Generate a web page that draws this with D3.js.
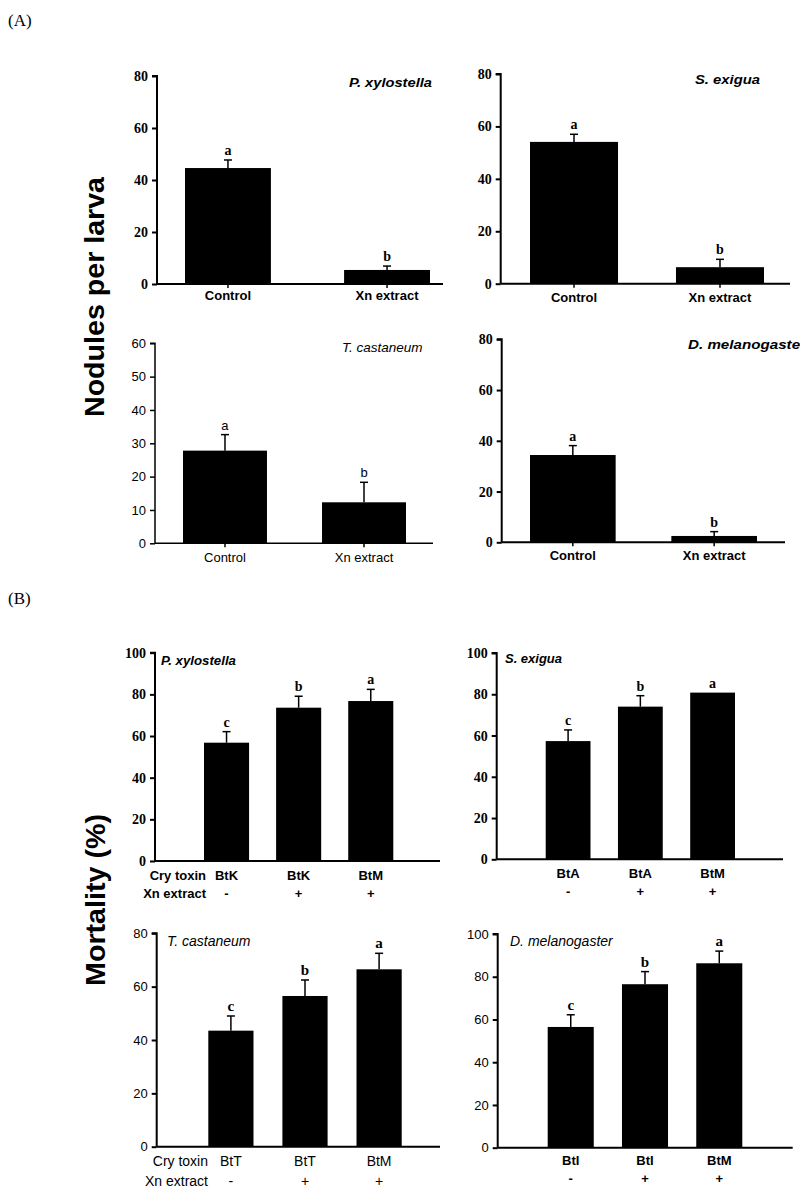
<!DOCTYPE html>
<html><head><meta charset="utf-8">
<script src="https://cdn.jsdelivr.net/npm/d3@7"></script>
<style>body{margin:0;background:#fff}svg{display:block}</style>
</head><body><svg id="c" width="800" height="1197"></svg>
<script>
// ---------- DATA ----------
const nodCategories = ["Control", "Xn extract"];
const nodLetters = ["a", "b"];
const nodPx = [44.6, 5.4],  nodPxErr = [3.1, 1.5];
const nodSe = [54.1, 6.3],  nodSeErr = [2.9, 3.0];
const nodTc = [27.8, 12.3], nodTcErr = [4.8, 6.0];
const nodDm = [34.4, 2.5],  nodDmErr = [3.7, 1.7];
const nodTicks80 = [0, 20, 40, 60, 80];
const nodTicks60 = [0, 10, 20, 30, 40, 50, 60];

const toxinPx = ["BtK", "BtK", "BtM"];
const toxinSe = ["BtA", "BtA", "BtM"];
const toxinTc = ["BtT", "BtT", "BtM"];
const toxinDm = ["BtI", "BtI", "BtM"];
const xnExtract = ["-", "+", "+"];
const mortLetters = ["c", "b", "a"];
const mortPx = [56.8, 73.6, 76.8], mortPxErr = [5.3, 5.5, 5.6];
const mortSe = [57.3, 74.0, 80.8], mortSeErr = [5.4, 5.3, 0];
const mortTc = [43.5, 56.5, 66.5], mortTcErr = [5.5, 6.0, 6.0];
const mortDm = [56.5, 76.5, 86.3], mortDmErr = [5.7, 5.9, 5.7];
const mortTicks100 = [0, 20, 40, 60, 80, 100];
const mortTicks80 = [0, 20, 40, 60, 80];

// ---------- STYLES ----------
const SANS = "'Liberation Sans', Arial, sans-serif";
const SERIF = "'Liberation Serif', 'Times New Roman', serif";
const boldStyle = {tick:[SERIF,"bold",14], cat:[SANS,"bold",13], title:[SANS,"bold",13], letter:[SERIF,"bold",14], lw:2};
const plainStyle = {tick:[SANS,"normal",13], cat:[SANS,"normal",13], title:[SANS,"normal",13.5], letter:[SANS,"normal",13], lw:1.5};
const tcBStyle = {tick:[SANS,"normal",13], cat:[SANS,"normal",14], title:[SANS,"normal",14], letter:[SERIF,"bold",15], lw:2};
const dmBStyle = {tick:[SANS,"normal",13], cat:[SANS,"bold",13], title:[SANS,"normal",14], letter:[SERIF,"bold",15], lw:2};

const svg = d3.select("#c");
function font(sel, f){ return sel.attr("font-family", f[0]).attr("font-weight", f[1]).attr("font-size", f[2]); }

function panel(o){
  const g = svg.append("g");
  const n = o.values.length;
  const x = d3.scaleBand().domain(d3.range(n)).range([o.b0, o.b1]).paddingInner(o.pi).paddingOuter(0);
  const y = d3.scaleLinear().domain([0, o.ymax]).range([o.y0, o.y1]);
  const s = o.style;
  g.selectAll("rect.bar").data(o.values).join("rect")
    .attr("x", (d,i)=>x(i)).attr("width", x.bandwidth())
    .attr("y", d=>y(d)).attr("height", d=>y(0)-y(d)).attr("fill", "#000");
  const cx = i => x(i) + x.bandwidth()/2;
  o.values.forEach((v,i)=>{
    const e = o.errors[i];
    if (e > 0){
      g.append("line").attr("x1",cx(i)).attr("x2",cx(i)).attr("y1",y(v)).attr("y2",y(v+e)).attr("stroke","#000").attr("stroke-width",1.5);
      g.append("line").attr("x1",cx(i)-4).attr("x2",cx(i)+4).attr("y1",y(v+e)).attr("y2",y(v+e)).attr("stroke","#000").attr("stroke-width",1.5);
    }
    font(g.append("text"), s.letter).attr("x", cx(i)).attr("y", y(v+e)-5).attr("text-anchor","middle").text(o.letters[i]);
  });
  const ya = g.append("g").attr("transform",`translate(${o.ax0},0)`)
    .call(d3.axisLeft(y).tickValues(o.ticks).tickSize(5).tickPadding(4).tickFormat(d3.format("d")));
  ya.select(".domain").attr("stroke-width", s.lw).attr("d", `M-5,${y(o.ymax)}H0V${y(0)}`);
  ya.selectAll(".tick line").attr("stroke-width", s.lw);
  font(ya.selectAll("text"), s.tick).attr("fill","#000");
  ya.attr("font-size", null).attr("font-family", null);
  g.append("line").attr("x1", o.ax0).attr("x2", o.ax1).attr("y1", y(0)).attr("y2", y(0)).attr("stroke","#000").attr("stroke-width", s.lw);
  o.cats.forEach((c,i)=>{
    if (o.xticks) g.append("line").attr("x1",cx(i)).attr("x2",cx(i)).attr("y1",y(0)).attr("y2",y(0)+4).attr("stroke","#000").attr("stroke-width",1.5);
    font(g.append("text"), s.cat).attr("x", cx(i)).attr("y", o.catY).attr("text-anchor","middle").text(c);
  });
  if (o.cats2){
    o.cats2.forEach((c,i)=>{
      font(g.append("text"), s.cat).attr("x", cx(i)).attr("y", o.cat2Y).attr("text-anchor","middle").text(c);
    });
  }
  if (o.rowLabels){
    font(g.append("text"), s.cat).attr("x", o.rowX).attr("y", o.catY).attr("text-anchor","end").text(o.rowLabels[0]);
    font(g.append("text"), s.cat).attr("x", o.rowX).attr("y", o.cat2Y).attr("text-anchor","end").text(o.rowLabels[1]);
  }
  const t = font(g.append("text"), s.title).attr("font-style","italic").attr("x", o.tx).attr("y", o.ty).text(o.title);
  if (o.tlen) t.attr("textLength", o.tlen).attr("lengthAdjust", "spacingAndGlyphs");
}

// ---------- PANEL (A) ----------
panel({title:"P. xylostella", values:nodPx, errors:nodPxErr, letters:nodLetters, cats:nodCategories, ticks:nodTicks80, ymax:80,
  y0:284, y1:76, ax0:157, ax1:443, b0:185, b1:430, pi:0.46, style:boldStyle, xticks:true, catY:300, tx:349, ty:87, tlen:83});
panel({title:"S. exigua", values:nodSe, errors:nodSeErr, letters:nodLetters, cats:nodCategories, ticks:nodTicks80, ymax:80,
  y0:283.7, y1:74, ax0:500.7, ax1:790, b0:530, b1:764, pi:0.397, style:boldStyle, xticks:true, catY:302, tx:695, ty:84, tlen:65});
panel({title:"T. castaneum", values:nodTc, errors:nodTcErr, letters:nodLetters, cats:nodCategories, ticks:nodTicks60, ymax:60,
  y0:543.3, y1:343.3, ax0:155, ax1:433, b0:183, b1:406, pi:0.396, style:plainStyle, xticks:true, catY:562, tx:342, ty:352});
panel({title:"D. melanogaster", values:nodDm, errors:nodDmErr, letters:nodLetters, cats:nodCategories, ticks:nodTicks80, ymax:80,
  y0:542.3, y1:339.3, ax0:501.7, ax1:785, b0:530, b1:757, pi:0.394, style:boldStyle, xticks:true, catY:560, tx:688, ty:349, tlen:118});

// ---------- PANEL (B) ----------
panel({title:"P. xylostella", values:mortPx, errors:mortPxErr, letters:mortLetters, cats:toxinPx, cats2:xnExtract, ticks:mortTicks100, ymax:100,
  y0:861, y1:652.7, ax0:155, ax1:440, b0:204, b1:393.3, pi:0.375, style:boldStyle, catY:880, cat2Y:898,
  rowLabels:["Cry toxin","Xn extract"], rowX:206, tx:161, ty:665, tlen:75});
panel({title:"S. exigua", values:mortSe, errors:mortSeErr, letters:mortLetters, cats:toxinSe, cats2:xnExtract, ticks:mortTicks100, ymax:100,
  y0:859.3, y1:653, ax0:496.7, ax1:783, b0:545.7, b1:735, pi:0.38, style:boldStyle, catY:878, cat2Y:896, tx:505, ty:663, tlen:57});
panel({title:"T. castaneum", values:mortTc, errors:mortTcErr, letters:mortLetters, cats:toxinTc, cats2:xnExtract, ticks:mortTicks80, ymax:80,
  y0:1146.7, y1:933.3, ax0:156.7, ax1:440, b0:208.3, b1:401.7, pi:0.39, style:tcBStyle, catY:1166, cat2Y:1186,
  rowLabels:["Cry toxin","Xn extract"], rowX:208, tx:167, ty:946});
panel({title:"D. melanogaster", values:mortDm, errors:mortDmErr, letters:mortLetters, cats:toxinDm, cats2:xnExtract, ticks:mortTicks100, ymax:100,
  y0:1147.7, y1:934, ax0:497.7, ax1:792.7, b0:547.7, b1:742.3, pi:0.38, style:dmBStyle, catY:1165, cat2Y:1183, tx:510, ty:946});

// ---------- LABELS ----------
svg.append("text").attr("x",8).attr("y",26).attr("font-family",SERIF).attr("font-size",17).text("(A)");
svg.append("text").attr("x",8).attr("y",604).attr("font-family",SERIF).attr("font-size",17).text("(B)");
svg.append("text").attr("transform","translate(104,297) rotate(-90)").attr("text-anchor","middle")
  .attr("font-family",SANS).attr("font-weight","bold").attr("font-size",27)
  .attr("textLength",240).attr("lengthAdjust","spacingAndGlyphs").text("Nodules per larva");
svg.append("text").attr("transform","translate(105,900) rotate(-90)").attr("text-anchor","middle")
  .attr("font-family",SANS).attr("font-weight","bold").attr("font-size",27)
  .attr("textLength",172).attr("lengthAdjust","spacingAndGlyphs").text("Mortality (%)");
</script></body></html>
